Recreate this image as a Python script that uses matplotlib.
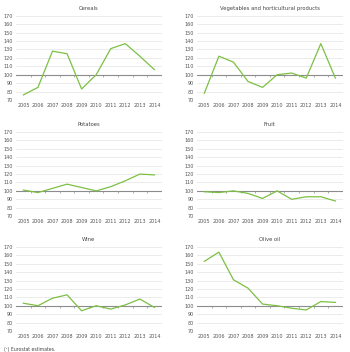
import matplotlib.pyplot as plt
import numpy as np

years = ["2005", "2006", "2007", "2008", "2009", "2010", "2011", "2012", "2013", "2014"]

titles = ["Cereals", "Vegetables and horticultural products", "Potatoes",
          "Fruit", "Wine", "Olive oil"]

cereals = [76, 85, 128, 125, 83, 100, 131, 137, 122, 106]
vegetables = [78, 122, 115, 92, 85, 100, 102, 96, 137, 96]
potatoes = [101, 98, 103, 108, 104, 100, 105, 112, 120, 119]
fruit = [99, 98, 100, 97, 91, 100, 90, 93, 93, 88]
wine = [103, 100, 109, 113, 94, 100, 96, 101, 108, 98]
olive_oil = [153, 164, 131, 121, 102, 100, 97, 95, 105, 104]

series = [cereals, vegetables, potatoes, fruit, wine, olive_oil]

green = "#7cc043"

fig = plt.figure(figsize=(3.5, 3.52), dpi=100)

# axes boxes: [left, bottom, width, height]
lefts = [0.046, 0.563]
rows = [(0.716, 0.239), (0.386, 0.239), (0.060, 0.238)]

x = np.arange(len(years))
for i, (title, vals) in enumerate(zip(titles, series)):
	r, c = divmod(i, 2)
	ax = fig.add_axes([lefts[c], rows[r][0], 0.416, rows[r][1]])
	ax.set_ylim(70, 170)
	ax.set_xlim(-0.5, len(years) - 0.5)
	ax.set_yticks(np.arange(70, 171, 10))
	ax.grid(axis="y", color="#e3e3e3", linewidth=0.5)
	ax.set_axisbelow(True)
	for s in ax.spines.values():
		s.set_visible(False)
	ax.axhline(100, color="#8c8c8c", linewidth=0.8, zorder=2)
	bounds = np.arange(0.5, len(years) - 0.5, 1)
	ax.plot(bounds, [100] * len(bounds), ls="none", marker=3, markersize=1.5,
			color="#8c8c8c", markeredgewidth=0.5, zorder=2)
	ax.plot(x, vals, color=green, linewidth=0.9, zorder=3)
	ax.set_xticks(x)
	ax.set_xticklabels(years)
	ax.tick_params(length=0, labelsize=3.5, colors="#555555", pad=2.2)
	ax.set_title(title, fontsize=3.8, color="#444444", pad=4.5)

fig.text(0.012, 0.003, "(\u00b9) Eurostat estimates.", fontsize=3.3, color="#444444")

fig.savefig("out.png", dpi=100)
